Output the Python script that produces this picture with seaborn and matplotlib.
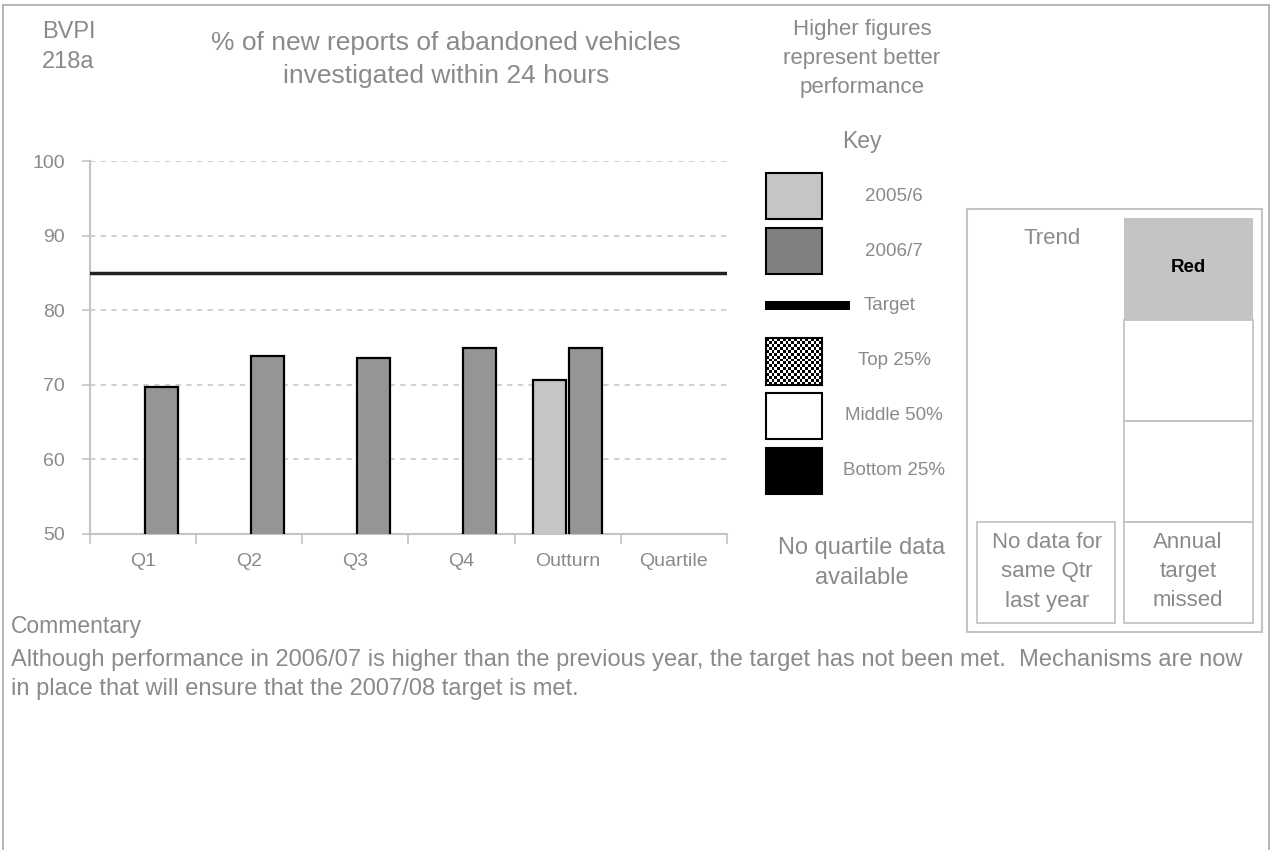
import numpy as np
import pandas as pd
import matplotlib
matplotlib.use("Agg")
import matplotlib.pyplot as plt
import seaborn as sns
from matplotlib.patches import Rectangle

# ---------------- data ----------------
categories = ["Q1", "Q2", "Q3", "Q4", "Outturn", "Quartile"]
years = ["2005/6", "2006/7"]
values_2005_6 = [None, None, None, None, 70.7, None]
values_2006_7 = [69.7, 73.9, 73.6, 74.9, 74.9, None]
target_value = 85
yticks = [50, 60, 70, 80, 90, 100]

title_lines = ["% of new reports of abandoned vehicles", "investigated within 24 hours"]
commentary_lines = [
    "Although performance in 2006/07 is higher than the previous year, the target has not been met.  Mechanisms are now",
    "in place that will ensure that the 2007/08 target is met.",
]

rows = []
for yr, vals in zip(years, [values_2005_6, values_2006_7]):
    for c, v in zip(categories, vals):
        if v is not None:
            rows.append({"category": c, "year": yr, "value": v})
df = pd.DataFrame(rows)

# ---------------- style ----------------
sns.set_style("white")
plt.rcParams["font.family"] = ["Liberation Sans", "DejaVu Sans"]
GRAY_TXT = "#8a8a8a"
GRAY_LINE = "#c4c4c4"
C05 = "#c5c4c7"
C06 = "#959693"

W, H = 1271, 850
fig = plt.figure(figsize=(W / 100, H / 100), dpi=100)
fig.patch.set_facecolor("white")

# overlay axes in pixel coordinates for decorations
ov = fig.add_axes([0, 0, 1, 1])
ov.set_xlim(0, W)
ov.set_ylim(H, 0)
ov.axis("off")

# outer frame
ov.plot([3, 3], [5, H], color="#b0b0b0", lw=1.3)
ov.plot([3, 1269], [5, 5], color="#b0b0b0", lw=1.3)
ov.plot([1269, 1269], [5, H], color="#b0b0b0", lw=1.3)

# header texts
ov.text(42, 32, "BVPI", fontsize=17, color=GRAY_TXT, ha="left", va="center")
ov.text(42, 62, "218a", fontsize=17, color=GRAY_TXT, ha="left", va="center")
ov.text(446, 43, title_lines[0], fontsize=19, color=GRAY_TXT, ha="center", va="center")
ov.text(446, 76, title_lines[1], fontsize=19, color=GRAY_TXT, ha="center", va="center")

# right-hand notes
for i, s in enumerate(["Higher figures", "represent better", "performance"]):
    ov.text(862, 29 + i * 29, s, fontsize=16, color=GRAY_TXT, ha="center", va="center")
ov.text(862, 141, "Key", fontsize=16.5, color=GRAY_TXT, ha="center", va="center")

# key swatches
ov.add_patch(Rectangle((766, 173), 56, 46, fc=C05, ec="black", lw=1.5))
ov.add_patch(Rectangle((766, 228), 56, 46, fc="#807f81", ec="black", lw=1.5))
ov.add_patch(Rectangle((765, 301), 85, 9, fc="black", ec="none"))
checker = (np.indices((16, 20)).sum(axis=0) % 2).astype(float)
ov.imshow(checker, extent=(766, 822, 385, 338), cmap="gray", interpolation="nearest",
          aspect="auto", zorder=2)
ov.add_patch(Rectangle((766, 338), 56, 47, fc="none", ec="black", lw=1.5, zorder=3))
ov.add_patch(Rectangle((766, 393), 56, 46, fc="white", ec="black", lw=1.5))
ov.add_patch(Rectangle((766, 448), 56, 46, fc="black", ec="black", lw=1.5))
ov.set_xlim(0, W)
ov.set_ylim(H, 0)

key_labels = [("2005/6", 894, 196), ("2006/7", 894, 251), ("Target", 890, 305),
              ("Top 25%", 894, 360), ("Middle 50%", 894, 415), ("Bottom 25%", 894, 470)]
for s, x, y in key_labels:
    ov.text(x, y, s, fontsize=13.5, color=GRAY_TXT, ha="center", va="center")

ov.text(862, 548, "No quartile data", fontsize=17, color=GRAY_TXT, ha="center", va="center")
ov.text(862, 578, "available", fontsize=17, color=GRAY_TXT, ha="center", va="center")

# trend panel
ov.add_patch(Rectangle((967, 209), 295, 423, fc="none", ec=GRAY_LINE, lw=1.5))
ov.add_patch(Rectangle((1124, 218), 129, 102, fc="#c4c3c6", ec="none"))
for y0 in [320, 421, 522]:
    ov.add_patch(Rectangle((1124, y0), 129, 101, fc="none", ec=GRAY_LINE, lw=1.3))
ov.add_patch(Rectangle((977, 522), 138, 101, fc="none", ec=GRAY_LINE, lw=1.3))
ov.text(1052, 238, "Trend", fontsize=16, color=GRAY_TXT, ha="center", va="center")
ov.text(1188, 268, "Red", fontsize=13.5, color="black", fontweight="bold", ha="center", va="center")
for i, s in enumerate(["No data for", "same Qtr", "last year"]):
    ov.text(1047, 543 + i * 29, s, fontsize=16, color=GRAY_TXT, ha="center", va="center")
for i, s in enumerate(["Annual", "target", "missed"]):
    ov.text(1188, 543 + i * 29, s, fontsize=16, color=GRAY_TXT, ha="center", va="center")

# commentary
ov.text(11, 627, "Commentary", fontsize=16.5, color=GRAY_TXT, ha="left", va="center")
for i, s in enumerate(commentary_lines):
    ov.text(11, 660 + i * 29, s, fontsize=17, color=GRAY_TXT, ha="left", va="center")

# ---------------- main chart ----------------
ax_l, ax_r, ax_t, ax_b = 90, 727, 161, 534
ax = fig.add_axes([ax_l / W, 1 - ax_b / H, (ax_r - ax_l) / W, (ax_b - ax_t) / H])
ax.patch.set_alpha(0)

sns.barplot(data=df, x="category", y="value", hue="year", order=categories,
            hue_order=years, palette={years[0]: C05, years[1]: C06},
            width=0.68, gap=0.08, edgecolor="black", linewidth=1.6,
            saturation=1, legend=False, ax=ax, zorder=3)

ax.axhline(target_value, color="#222222", lw=2.5, zorder=4)

ax.set_ylim(50, 100)
ax.set_xlim(-0.5, len(categories) - 0.5)
ax.set_yticks(yticks)
ax.set_yticklabels([str(t) for t in yticks])
ax.set_xticks(range(len(categories)))
ax.set_xticklabels(categories)
ax.set_xticks(np.arange(-0.5, len(categories), 1.0), minor=True)
ax.set_xlabel("")
ax.set_ylabel("")

ax.yaxis.grid(True, linestyle=(0, (3.5, 3.5)), color=GRAY_LINE, lw=1.1, zorder=0)
ax.set_axisbelow(True)
ax.tick_params(axis="y", which="major", length=6, color=GRAY_LINE, width=1.2,
               labelcolor=GRAY_TXT, labelsize=14, pad=12, left=True)
ax.tick_params(axis="x", which="major", length=0, labelcolor=GRAY_TXT, labelsize=14, pad=14)
ax.tick_params(axis="x", which="minor", length=7, color=GRAY_LINE, width=1.2, bottom=True)

for side in ["top", "right"]:
    ax.spines[side].set_visible(False)
for side in ["left", "bottom"]:
    ax.spines[side].set_color(GRAY_LINE)
    ax.spines[side].set_linewidth(1.5)

fig.savefig("out.png", dpi=100, facecolor="white")
